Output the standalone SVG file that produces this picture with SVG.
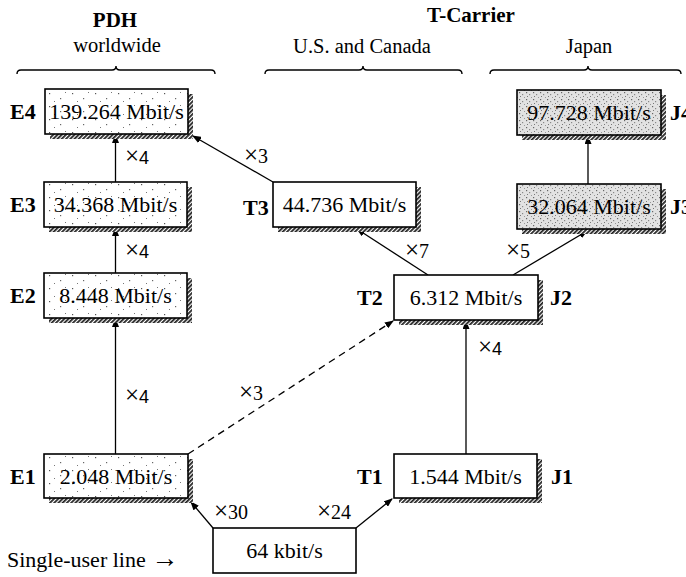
<svg xmlns="http://www.w3.org/2000/svg" width="686" height="577" viewBox="0 0 686 577">
<defs>
<pattern id="hatch" width="3" height="3" patternUnits="userSpaceOnUse" patternTransform="rotate(45)">
<rect width="3" height="3" fill="#fff"/><rect width="1.8" height="3" fill="#222"/>
</pattern>
<pattern id="dotsE" width="23" height="13" patternUnits="userSpaceOnUse">
<rect width="23" height="13" fill="#fff"/>
<rect x="3" y="2" width="1.2" height="1.2" fill="#555"/>
<rect x="14" y="7" width="1.2" height="1.2" fill="#666"/>
<rect x="19" y="1" width="1" height="1" fill="#777"/>
<rect x="8" y="10" width="1" height="1" fill="#777"/>
</pattern>
<pattern id="dotsJ" width="7" height="7" patternUnits="userSpaceOnUse">
<rect width="7" height="7" fill="#e2e2e2"/>
<rect x="1" y="1" width="1.2" height="1.2" fill="#666"/>
<rect x="4" y="3" width="1.2" height="1.2" fill="#888"/>
<rect x="2" y="5" width="1" height="1" fill="#777"/>
<rect x="6" y="6" width="1" height="1" fill="#999"/>
</pattern>
<marker id="arr" markerWidth="9" markerHeight="7" refX="8" refY="3.5" orient="auto" markerUnits="userSpaceOnUse">
<path d="M0,0 L9,3.5 L0,7 z" fill="#000"/>
</marker>
</defs>
<style>
.box{stroke:#000;stroke-width:1.6}
.w{fill:#fff}
.e{fill:url(#dotsE)}
.j{fill:url(#dotsJ)}
.sh{fill:url(#hatch)}
.bt{font-family:"Liberation Serif",serif;font-size:22px;text-anchor:middle;fill:#000}
.lb{font-family:"Liberation Serif",serif;font-size:22px;font-weight:bold;fill:#000}
.hd{font-family:"Liberation Serif",serif;font-size:21px;font-weight:bold;text-anchor:middle}
.sub{font-family:"Liberation Serif",serif;font-size:20.5px;text-anchor:middle}
.mul{font-family:"Liberation Serif",serif;font-size:20px}
.muls{font-family:"Liberation Sans",sans-serif;font-size:18px}
.x{font-family:"Liberation Serif",serif;font-size:25px}
.ln{stroke:#000;stroke-width:1.3;fill:none}
.br{stroke:#000;stroke-width:1.4;fill:none}
</style>

<g id="headers">
<text class="hd" x="115" y="27">PDH</text>
<text class="sub" x="117" y="52">worldwide</text>
<text class="hd" x="471" y="22">T-Carrier</text>
<text class="sub" x="362" y="53">U.S. and Canada</text>
<text class="sub" x="589" y="53">Japan</text>
<path class="br" d="M17,74 q0,-4 4,-4 L112,70 q4,0 4,-4 q0,4 4,4 L211,70 q4,0 4,4"/>
<path class="br" d="M265,74 q0,-4 4,-4 L359,70 q4,0 4,-4 q0,4 4,4 L458,70 q4,0 4,4"/>
<path class="br" d="M490,74 q0,-4 4,-4 L584,70 q4,0 4,-4 q0,4 4,4 L677,70 q4,0 4,4"/>
</g>

<g id="connectors">
<line class="ln" x1="115.5" y1="454" x2="115.5" y2="319" marker-end="url(#arr)"/>
<line class="ln" x1="115.5" y1="273" x2="115.5" y2="228" marker-end="url(#arr)"/>
<line class="ln" x1="115.5" y1="182" x2="115.5" y2="135" marker-end="url(#arr)"/>
<line class="ln" x1="273" y1="182" x2="193" y2="136" marker-end="url(#arr)"/>
<line class="ln" x1="428" y1="275" x2="357" y2="229" marker-end="url(#arr)"/>
<line class="ln" x1="513" y1="275" x2="587" y2="231" marker-end="url(#arr)"/>
<line class="ln" x1="588" y1="184" x2="588" y2="136" marker-end="url(#arr)"/>
<line class="ln" x1="466" y1="454" x2="466" y2="321" marker-end="url(#arr)"/>
<line class="ln" x1="188" y1="454" x2="393" y2="321" stroke-dasharray="7,5" marker-end="url(#arr)"/>
<line class="ln" x1="213" y1="528" x2="191" y2="502" marker-end="url(#arr)"/>
<line class="ln" x1="356" y1="528" x2="392" y2="499" marker-end="url(#arr)"/>
<text class="muls" x="125" y="164"><tspan class="x">×</tspan>4</text>
<text class="muls" x="125" y="258"><tspan class="x">×</tspan>4</text>
<text class="muls" x="125" y="403"><tspan class="x">×</tspan>4</text>
<text class="muls" x="478" y="355"><tspan class="x">×</tspan>4</text>
<text class="mul" x="244" y="163"><tspan class="x">×</tspan>3</text>
<text class="mul" x="405" y="258"><tspan class="x">×</tspan>7</text>
<text class="mul" x="506" y="258"><tspan class="x">×</tspan>5</text>
<text class="mul" x="239" y="400"><tspan class="x">×</tspan>3</text>
<text class="mul" x="214" y="519"><tspan class="x">×</tspan>30</text>
<text class="mul" x="317" y="519"><tspan class="x">×</tspan>24</text>
</g>

<g id="E4">
<rect class="sh" x="50" y="94" width="143" height="45"/>
<rect class="box e" x="45" y="89" width="143" height="45"/>
<text class="bt" x="116.5" y="119">139.264 Mbit/s</text>
<text class="lb" x="10" y="119">E4</text>
</g>
<g id="E3">
<rect class="sh" x="49" y="187" width="143" height="45"/>
<rect class="box e" x="44" y="182" width="143" height="45"/>
<text class="bt" x="115.5" y="212">34.368 Mbit/s</text>
<text class="lb" x="10" y="212">E3</text>
</g>
<g id="E2">
<rect class="sh" x="49" y="278" width="143" height="45"/>
<rect class="box e" x="44" y="273" width="143" height="45"/>
<text class="bt" x="115.5" y="303">8.448 Mbit/s</text>
<text class="lb" x="10" y="303">E2</text>
</g>
<g id="E1">
<rect class="sh" x="49" y="459" width="144" height="44"/>
<rect class="box e" x="44" y="454" width="144" height="44"/>
<text class="bt" x="116" y="484">2.048 Mbit/s</text>
<text class="lb" x="10" y="484">E1</text>
</g>
<g id="T3">
<rect class="sh" x="278" y="187" width="143" height="45"/>
<rect class="box w" x="273" y="182" width="143" height="45"/>
<text class="bt" x="344.5" y="212">44.736 Mbit/s</text>
<text class="lb" x="243" y="215">T3</text>
</g>
<g id="T2">
<rect class="sh" x="399" y="280" width="144" height="45"/>
<rect class="box w" x="394" y="275" width="144" height="45"/>
<text class="bt" x="466" y="305">6.312 Mbit/s</text>
<text class="lb" x="357" y="305">T2</text>
<text class="lb" x="550" y="305">J2</text>
</g>
<g id="T1">
<rect class="sh" x="399" y="459" width="143" height="44"/>
<rect class="box w" x="394" y="454" width="143" height="44"/>
<text class="bt" x="465.5" y="484">1.544 Mbit/s</text>
<text class="lb" x="357" y="484">T1</text>
<text class="lb" x="551" y="484">J1</text>
</g>
<g id="J4">
<rect class="sh" x="522" y="95" width="144" height="45"/>
<rect class="box j" x="517" y="90" width="144" height="45"/>
<text class="bt" x="589" y="120">97.728 Mbit/s</text>
<text class="lb" x="670" y="120">J4</text>
</g>
<g id="J3">
<rect class="sh" x="522" y="189" width="144" height="45"/>
<rect class="box j" x="517" y="184" width="144" height="45"/>
<text class="bt" x="589" y="214">32.064 Mbit/s</text>
<text class="lb" x="670" y="214">J3</text>
</g>
<g id="K64">
<rect class="box w" x="213" y="528" width="143" height="45"/>
<text class="bt" x="284.5" y="558">64 kbit/s</text>
<text class="sub" x="7" y="567" style="text-anchor:start;font-size:22px">Single-user line <tspan style="font-size:27px">→</tspan></text>
</g>
</svg>
